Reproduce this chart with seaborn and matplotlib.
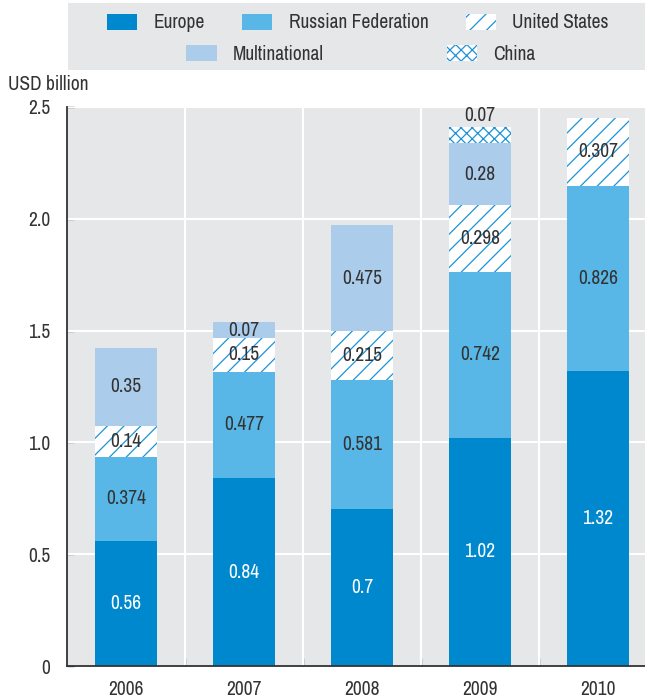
import matplotlib
matplotlib.use("Agg")
import matplotlib.pyplot as plt
import matplotlib.patches as mpatches
from matplotlib import font_manager
import numpy as np
import seaborn as sns

years = ["2006", "2007", "2008", "2009", "2010"]
europe = [0.56, 0.84, 0.7, 1.02, 1.32]
russia = [0.374, 0.477, 0.581, 0.742, 0.826]
united_states = [0.14, 0.15, 0.215, 0.298, 0.307]
multinational = [0.35, 0.07, 0.475, 0.28, 0.0]
china = [0.0, 0.0, 0.0, 0.07, 0.0]
series_names = ["Europe", "Russian Federation", "United States", "Multinational", "China"]
y_ticks = [0, 0.5, 1.0, 1.5, 2.0, 2.5]
y_tick_labels = ["0", "0.5", "1.0", "1.5", "2.0", "2.5"]

sns.set_theme(style="white")

# pick a regular-weight condensed face if one is installed, else Roboto
cond = None
cands = [f for f in font_manager.fontManager.ttflist
         if ("Narrow" in f.name or "Condensed" in f.name) and f.style == "normal"]
cands.sort(key=lambda f: abs((f.weight if isinstance(f.weight, int) else 400) - 400))
if cands:
    cond = cands[0].name
fam = [cond] if cond else []
fam += ["Roboto", "DejaVu Sans"]
plt.rcParams["font.family"] = fam
plt.rcParams["font.weight"] = "normal"
FS = 14 if cond else 11.5

TXT = "#333333"
BG = "#e6e7e9"
C_EU = "#0088ce"
C_RU = "#58b7e7"
C_MN = "#abcdeb"
C_HATCH = "#1c93d8"
plt.rcParams["hatch.linewidth"] = 0.9

fig = plt.figure(figsize=(6.45, 7.0), dpi=100)
ax = fig.add_axes([67 / 645, 34 / 700, 1 - 67 / 645, (666 - 107) / 700])
ax.set_facecolor(BG)

series = [europe, russia, united_states, multinational, china]
styles = [
    dict(fc=C_EU, hatch=None),
    dict(fc=C_RU, hatch=None),
    dict(fc="white", hatch="//"),
    dict(fc=C_MN, hatch=None),
    dict(fc="white", hatch="xxx"),
]
width = 0.53
bottom = np.zeros(len(years))
bottoms = []
for vals, st in zip(series, styles):
    sns.barplot(x=years, y=vals, bottom=bottom.copy(), width=width, errorbar=None,
                ax=ax, color=st["fc"], linewidth=0, zorder=3)
    cont = ax.containers[-1]
    for p in cont:
        p.set_facecolor(st["fc"])
        p.set_linewidth(0)
        if st["hatch"]:
            p.set_edgecolor(C_HATCH)
            p.set_hatch(st["hatch"])
        else:
            p.set_edgecolor(st["fc"])
    bottoms.append(bottom.copy())
    bottom = bottom + np.array(vals)

# value labels
for si, (vals, bots) in enumerate(zip(series, bottoms)):
    for i, v in enumerate(vals):
        if v <= 0:
            continue
        if si == 4:
            ax.text(i, bots[i] + v + 0.01, str(v), ha="center", va="bottom",
                    fontsize=FS, color=TXT, zorder=5)
        else:
            col = "white" if si == 0 else TXT
            ax.text(i, bots[i] + v / 2, str(v), ha="center", va="center",
                    fontsize=FS, color=col, zorder=5)

ax.set_xlim(-0.5, 4.4)
ax.set_ylim(0, 2.5)
ax.set_yticks(y_ticks)
ax.set_yticklabels(y_tick_labels)
ax.set_xticks(range(len(years)))
ax.set_xticklabels(years)
ax.set_xticks([0.5, 1.5, 2.5, 3.5], minor=True)
ax.tick_params(axis="x", which="major", length=0, pad=10, labelsize=FS, colors=TXT)
ax.tick_params(axis="x", which="minor", direction="in", length=6, width=1, color="#555555",
               bottom=True)
ax.tick_params(axis="y", direction="in", length=5, width=1, color="#555555", left=True,
               pad=12, labelsize=FS, labelcolor=TXT)
ax.set_xlabel("")
ax.set_ylabel("")

for y in y_ticks[1:]:
    ax.axhline(y, color="white", lw=1.5, zorder=1)
for x in [0.5, 1.5, 2.5, 3.5]:
    ax.axvline(x, color="white", lw=1.5, zorder=1)

for s in ["top", "right"]:
    ax.spines[s].set_visible(False)
for s in ["left", "bottom"]:
    ax.spines[s].set_color("#333333")
    ax.spines[s].set_linewidth(1.3)
    ax.spines[s].set_zorder(6)

fig.text(8 / 645, 1 - 85 / 700, "USD billion", ha="left", va="center", fontsize=FS, color=TXT)

# legend background
fig.patches.append(mpatches.Rectangle((68 / 645, 1 - 70 / 700), 1 - 68 / 645, 67 / 700,
                                      transform=fig.transFigure, facecolor=BG,
                                      edgecolor="none", zorder=0))


def handle(i):
    st = styles[i]
    if st["hatch"]:
        return mpatches.Patch(facecolor="white", edgecolor=C_HATCH, hatch=st["hatch"], linewidth=0)
    return mpatches.Patch(facecolor=st["fc"], edgecolor="none")


leg_kw = dict(frameon=False, fontsize=FS, handlelength=1.55, handleheight=0.85,
              handletextpad=0.85, labelcolor=TXT, borderpad=0, borderaxespad=0)
leg1 = fig.legend([handle(0), handle(1), handle(2)], [series_names[0], series_names[1], series_names[2]],
                  loc="center", bbox_to_anchor=(358 / 645, 1 - 23 / 700), ncol=3,
                  columnspacing=1.9, **leg_kw)
leg2 = fig.legend([handle(3), handle(4)], [series_names[3], series_names[4]],
                  loc="center", bbox_to_anchor=(361 / 645, 1 - 54 / 700), ncol=2,
                  columnspacing=6.3, **leg_kw)

fig.savefig("out.png", dpi=100)
